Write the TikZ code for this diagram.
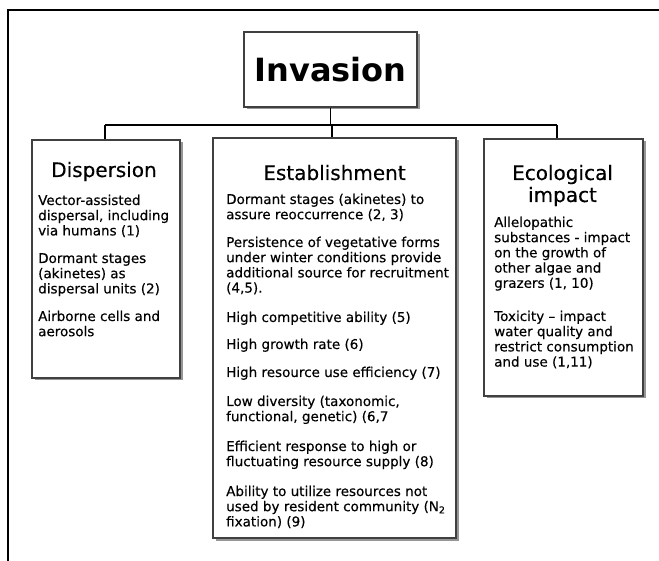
\documentclass[tikz,border=0pt]{standalone}
\usepackage{fontspec}
\setmainfont{DejaVu Sans}
\newfontfamily\heavyfont{DejaVu Sans}[BoldFont=DejaVu Sans, BoldFeatures={FakeBold=0.3}]
\usetikzlibrary{shadows}
\newcommand\leftlines[1]{\begin{tabular}[t]{@{}l@{}}#1\end{tabular}}
\newcommand\midlines[1]{\begin{tabular}[t]{@{}c@{}}#1\end{tabular}}
\begin{document}
\begin{tikzpicture}[x=1pt,y=-1pt,
  box/.style={draw=black!75, line width=1.1pt, fill=white, inner sep=0pt,
    drop shadow={shadow xshift=2.5pt, shadow yshift=-2.5pt, fill=black!55, opacity=0.75}},
  link/.style={line width=1.7pt, black},
  body/.style={anchor=base west, inner sep=0pt, font=\fontsize{13.5}{15.2}\heavyfont\bfseries},
  head/.style={anchor=base, inner sep=0pt, font=\fontsize{20}{22}\heavyfont\bfseries}]
\useasboundingbox (0,0) rectangle (659,561);
\fill[white] (0,0) rectangle (659,561);
\draw[line width=1.3pt] (8,561) -- (8,10) -- (659,10);

% junction points of the connector bar
\coordinate (jd) at (105,125);
\coordinate (ji) at (332,125);
\coordinate (je) at (557,125);

\node[box, minimum width=173pt, minimum height=75pt] (inv) at (330.5,69.5)
  {\fontsize{32}{36}\selectfont\bfseries Invasion};
\node[box, minimum width=148pt, minimum height=238pt] (disp) at (106,259) {};
\node[box, minimum width=243pt, minimum height=400pt] (est) at (334.5,338) {};
\node[box, minimum width=159pt, minimum height=257pt] (eco) at (563.5,267.5) {};

\draw[link] (inv.south) -- (inv.south |- ji);
\draw[link] (jd) -- (je);
\draw[link] (jd) -- (jd |- disp.north);
\draw[link] (ji) -- (ji |- est.north);
\draw[link] (je) -- (je |- eco.north);

% Dispersion
\node[head] (dh) at (104,177) {Dispersion};
\node[body] (d1) at (38,205) {\leftlines{Vector-assisted\\dispersal, including\\via humans (1)}};
\node[body] (d2) at (38,263) {\leftlines{Dormant stages\\(akinetes) as\\dispersal units (2)}};
\node[body] (d3) at (38,321) {\leftlines{Airborne cells and\\aerosols}};

% Establishment
\node[head] (eh) at (334.5,180) {Establishment};
\node[body] (e1) at (226,204) {\leftlines{Dormant stages (akinetes) to\\assure reoccurrence (2, 3)}};
\node[body] (e2) at (226,247) {\leftlines{Persistence of vegetative forms\\under winter conditions provide\\additional source for recruitment\\(4,5).}};
\node[body] (e3) at (226,322) {High competitive ability (5)};
\node[body] (e4) at (226,349) {High growth rate (6)};
\node[body] (e5) at (226,377) {High resource use efficiency (7)};
\node[body] (e6) at (226,406) {\leftlines{Low diversity (taxonomic,\\functional, genetic) (6,7}};
\node[body] (e7) at (226,451) {\leftlines{Efficient response to high or\\fluctuating resource supply (8)}};
\node[body] (e8) at (226,496) {\leftlines{Ability to utilize resources not\\used by resident community (N\textsubscript{2}\\fixation) (9)}};

% Ecological impact
\node[head] (ih) at (562.5,180) {\midlines{Ecological\\impact}};
\node[body] (i1) at (494,227) {\leftlines{Allelopathic\\substances - impact\\on the growth of\\other algae and\\grazers (1, 10)}};
\node[body] (i2) at (494,321) {\leftlines{Toxicity – impact\\water quality and\\restrict consumption\\and use (1,11)}};
\end{tikzpicture}
\end{document}
